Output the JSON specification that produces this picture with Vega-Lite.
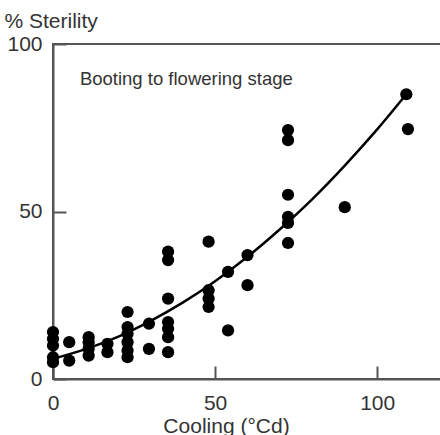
{
  "$schema": "https://vega.github.io/schema/vega-lite/v6.json",
  "width": 389,
  "height": 335,
  "autosize": "none",
  "padding": {"left": 53, "top": 44, "right": 0, "bottom": 56},
  "background": "white",
  "config": {
    "view": {"stroke": "#555", "strokeWidth": 2},
    "font": "Liberation Sans",
    "axis": {
      "domainColor": "#555",
      "domainWidth": 2,
      "tickColor": "#555",
      "tickWidth": 2,
      "tickSize": -13,
      "grid": false,
      "labelFlush": false,
      "labelFont": "Liberation Sans",
      "labelFontSize": 21,
      "labelColor": "#333",
      "titleFont": "Liberation Sans",
      "titleFontSize": 21,
      "titleFontWeight": "normal",
      "titleColor": "#333"
    }
  },
  "datasets": {
    "obs": [
      {"cooling": 0, "sterility": 14}, {"cooling": 0, "sterility": 12}, {"cooling": 0, "sterility": 10},
      {"cooling": 0, "sterility": 6.5}, {"cooling": 0, "sterility": 5},
      {"cooling": 5, "sterility": 11}, {"cooling": 5, "sterility": 5.5},
      {"cooling": 11, "sterility": 12.5}, {"cooling": 11, "sterility": 11}, {"cooling": 11, "sterility": 9}, {"cooling": 11, "sterility": 7},
      {"cooling": 16.8, "sterility": 10.5}, {"cooling": 16.8, "sterility": 8},
      {"cooling": 23, "sterility": 20}, {"cooling": 23, "sterility": 15.5}, {"cooling": 23, "sterility": 13.5},
      {"cooling": 23, "sterility": 11}, {"cooling": 23, "sterility": 8.5}, {"cooling": 23, "sterility": 6.5},
      {"cooling": 29.6, "sterility": 16.5}, {"cooling": 29.6, "sterility": 9},
      {"cooling": 35.5, "sterility": 38}, {"cooling": 35.5, "sterility": 35.5}, {"cooling": 35.5, "sterility": 24},
      {"cooling": 35.5, "sterility": 17}, {"cooling": 35.5, "sterility": 15}, {"cooling": 35.5, "sterility": 12.5}, {"cooling": 35.5, "sterility": 8},
      {"cooling": 48, "sterility": 41}, {"cooling": 48, "sterility": 26.5}, {"cooling": 48, "sterility": 24}, {"cooling": 48, "sterility": 21.5},
      {"cooling": 54, "sterility": 32}, {"cooling": 54, "sterility": 14.5},
      {"cooling": 60, "sterility": 37}, {"cooling": 60, "sterility": 28},
      {"cooling": 72.5, "sterility": 74.3}, {"cooling": 72.5, "sterility": 71.3}, {"cooling": 72.5, "sterility": 55},
      {"cooling": 72.5, "sterility": 48.4}, {"cooling": 72.5, "sterility": 46.6}, {"cooling": 72.5, "sterility": 40.6},
      {"cooling": 90, "sterility": 51.3},
      {"cooling": 109, "sterility": 85}, {"cooling": 109.5, "sterility": 74.6}
    ],
    "fit": [
      {"cooling": 0, "sterility": 6.0}, {"cooling": 10, "sterility": 8.9}, {"cooling": 20, "sterility": 12.6},
      {"cooling": 30, "sterility": 17.3}, {"cooling": 40, "sterility": 22.8}, {"cooling": 50, "sterility": 29.2},
      {"cooling": 60, "sterility": 36.5}, {"cooling": 70, "sterility": 44.7}, {"cooling": 80, "sterility": 53.7},
      {"cooling": 90, "sterility": 63.7}, {"cooling": 100, "sterility": 74.5}, {"cooling": 109, "sterility": 85.0}
    ],
    "note": [{"cooling": 8.3, "sterility": 87.8, "label": "Booting to flowering stage"}]
  },
  "encoding": {
    "x": {
      "field": "cooling", "type": "quantitative",
      "scale": {"domain": [0, 120], "nice": false, "zero": false},
      "axis": {
        "values": [0, 50, 100], "title": "Cooling (°Cd)",
        "labelPadding": 26, "labelBaseline": "top",
        "titleX": 173, "titleY": 53, "titleAnchor": null, "titleAlign": "center", "titleBaseline": "alphabetic"
      }
    },
    "y": {
      "field": "sterility", "type": "quantitative",
      "scale": {"domain": [0, 100], "nice": false},
      "axis": {
        "values": [0, 50, 100], "title": "% Sterility",
        "labelPadding": 24,
        "titleAngle": 0, "titleX": -49, "titleY": -17, "titleAlign": "left", "titleBaseline": "alphabetic"
      }
    }
  },
  "layer": [
    {
      "data": {"name": "fit"},
      "mark": {"type": "line", "color": "black", "strokeWidth": 2.5, "interpolate": "monotone"}
    },
    {
      "data": {"name": "obs"},
      "mark": {"type": "circle", "color": "black", "opacity": 1, "size": 150}
    },
    {
      "data": {"name": "note"},
      "mark": {"type": "text", "align": "left", "baseline": "alphabetic", "fontSize": 18.5, "font": "Liberation Sans", "color": "#333"},
      "encoding": {"text": {"field": "label"}}
    }
  ]
}
